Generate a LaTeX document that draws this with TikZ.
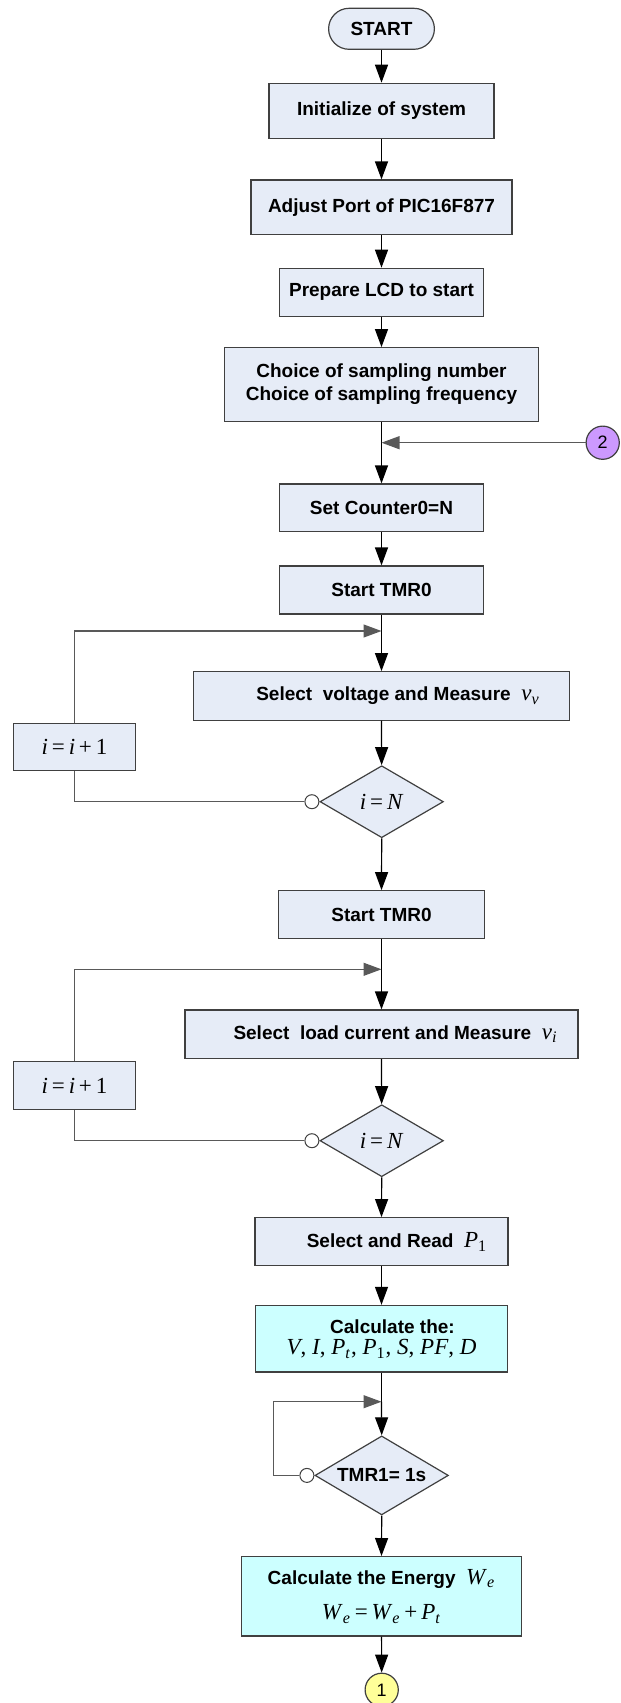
\documentclass[tikz,border=0pt]{standalone}
\usepackage{fontspec}
\setmainfont{Liberation Sans}
\newfontfamily\tms{Liberation Serif}
\usetikzlibrary{shapes.geometric,arrows.meta}
\definecolor{boxfill}{HTML}{E6ECF7}
\definecolor{calcfill}{HTML}{CCFFFF}
\definecolor{purp}{HTML}{CC99FF}
\definecolor{yel}{HTML}{FFFF99}
\definecolor{edge}{HTML}{404040}
\newcommand\mth[1]{{\tms\mdseries\upshape\fontsize{11.5}{13}\selectfont #1}}
\newcommand\iv[1]{\textit{#1}}
\begin{document}
\begin{tikzpicture}[x=0.5pt,y=-0.5pt,
  box/.style={draw=edge, line width=0.6pt, fill=boxfill, rectangle, inner sep=0pt,
    font=\fontsize{9.5}{11.7}\selectfont\bfseries, align=center},
  calcbox/.style={box, fill=calcfill},
  dec/.style={draw=edge, line width=0.6pt, fill=boxfill, diamond, aspect=1.7, inner sep=0pt,
    minimum width=61.7pt, minimum height=36pt},
  flow/.style={draw=black, line width=0.6pt},
  loopline/.style={draw=black!65, line width=0.6pt},
  arr/.style={flow, -{Triangle[length=9pt,width=6.5pt]}},
  looparr/.style={loopline, -{Triangle[length=9pt,width=6.5pt]}},
  knob/.style={circle, draw=edge, fill=white, line width=0.5pt, minimum size=7pt, inner sep=0pt},
  conn/.style={circle, draw=edge, line width=0.6pt, minimum size=16.6pt, inner sep=0pt,
    font=\fontsize{9}{11}\selectfont},
]
\useasboundingbox (0,0) rectangle (621,1703);

% main column
\node[box, rounded corners=10.25pt, minimum width=52.9pt, minimum height=20.5pt] (start) at (381.5,28.8) {START};
\node[box, minimum width=112.5pt, minimum height=27.5pt] (init) at (381.5,110.8) {Initialize of system};
\node[box, minimum width=130.5pt, minimum height=27.2pt] (adj) at (381.5,207.2) {Adjust Port of PIC16F877};
\node[box, minimum width=102.2pt, minimum height=23.9pt] (prep) at (381.5,292.2) {Prepare LCD to start};
\node[box, minimum width=157pt, minimum height=36.7pt] (choice) at (381.5,384.4) {Choice of sampling number\\Choice of sampling frequency};
\node[box, minimum width=102.2pt, minimum height=23.9pt] (setc) at (381.5,507.9) {Set Counter0=N};
\node[box, minimum width=102.2pt, minimum height=24pt] (tmra) at (381.5,590) {Start TMR0};
\node[box, minimum width=188pt, minimum height=24.2pt] (volt) at (381.5,695.9)
  {\hspace*{16.5pt}Select\ \ voltage and Measure\ \ \mth{\iv{v}\textsubscript{\iv{v}}}};
\node[box, minimum width=61.2pt, minimum height=23.7pt] (inca) at (74.5,747) {\mth{\iv{i}\,=\,\iv{i}\,+\,1}};
\node[dec] (diaa) at (381.7,801.7) {\mth{\iv{i}\,=\,\iv{N}}};
\node[box, minimum width=102.7pt, minimum height=23.8pt] (tmrb) at (381.5,914.5) {Start TMR0};
\node[box, minimum width=196.5pt, minimum height=24.2pt] (load) at (381.5,1034.2)
  {\hspace*{14pt}Select\ \ load current and Measure\ \ \mth{\iv{v}\textsubscript{\iv{i}}}};
\node[box, minimum width=61.2pt, minimum height=23.8pt] (incb) at (74.5,1085.5) {\mth{\iv{i}\,=\,\iv{i}\,+\,1}};
\node[dec] (diab) at (381.7,1140.7) {\mth{\iv{i}\,=\,\iv{N}}};
\node[box, minimum width=126.5pt, minimum height=24pt] (read) at (381.5,1241.7)
  {\hspace*{15.5pt}Select and Read\ \ \mth{\iv{P}\textsubscript{1}}};
\node[calcbox, minimum width=126.2pt, minimum height=33.3pt] (calc) at (381.5,1338.7)
  {\hspace*{11pt}Calculate the:\\[-1pt]
   \mth{\iv{V}, \iv{I}, \iv{P}\textsubscript{\iv{t}}, \iv{P}\textsubscript{1}, \iv{S}, \iv{PF}, \iv{D}}};
\node[dec, minimum width=66.7pt, minimum height=39.5pt, font=\fontsize{9.5}{11.7}\selectfont\bfseries] (tdia) at (381.7,1475.4) {TMR1= 1s};
\node[calcbox, minimum width=140pt, minimum height=39.7pt] (energy) at (381.5,1596.3)
  {Calculate the Energy\ \ \mth{\iv{W}\textsubscript{\iv{e}}}\\[6pt]
   \mth{\iv{W}\textsubscript{\iv{e}}\,=\,\iv{W}\textsubscript{\iv{e}}\,+\,\iv{P}\textsubscript{\iv{t}}}};
\node[conn, fill=yel] (cone) at (381.7,1689.8) {1};
\node[conn, fill=purp] (ctwo) at (602.7,442.7) {2};

% knobs
\node[knob, anchor=east] (ka) at (diaa.west) {};
\node[knob, anchor=east] (kb) at (diab.west) {};
\node[knob, anchor=east] (kc) at (tdia.west) {};

% merge points
\coordinate (mtwo) at (381.5,442.7);
\coordinate (ma) at (381.5,631);
\coordinate (mb) at (381.5,969.3);
\coordinate (mc) at (381.5,1401.7);
\coordinate (cc) at (273.3,1401.7);

% main flow
\draw[arr] (start) -- (init);
\draw[arr] (init) -- (adj);
\draw[arr] (adj) -- (prep);
\draw[arr] (prep) -- (choice);
\draw[flow] (choice.south) -- (mtwo);
\draw[arr] (mtwo) -- (setc.north);
\draw[looparr] (ctwo.west) -- (mtwo);
\draw[arr] (setc) -- (tmra);
\draw[flow] (tmra.south) -- (ma);
\draw[arr] (ma) -- (volt.north);
\draw[arr] (volt) -- (diaa);
\draw[looparr] (inca.north) |- (ma);
\draw[loopline] (ka.west) -| (inca.south);
\draw[arr] (diaa.south) -- (tmrb.north);
\draw[flow] (tmrb.south) -- (mb);
\draw[arr] (mb) -- (load.north);
\draw[arr] (load) -- (diab);
\draw[looparr] (incb.north) |- (mb);
\draw[loopline] (kb.west) -| (incb.south);
\draw[arr] (diab.south) -- (read.north);
\draw[arr] (read) -- (calc);
\draw[flow] (calc.south) -- (mc);
\draw[arr] (mc) -- (tdia.north);
\draw[looparr] (kc.west) -| (cc) -- (mc);
\draw[arr] (tdia.south) -- (energy.north);
\draw[arr] (energy) -- (cone);
\end{tikzpicture}
\end{document}
